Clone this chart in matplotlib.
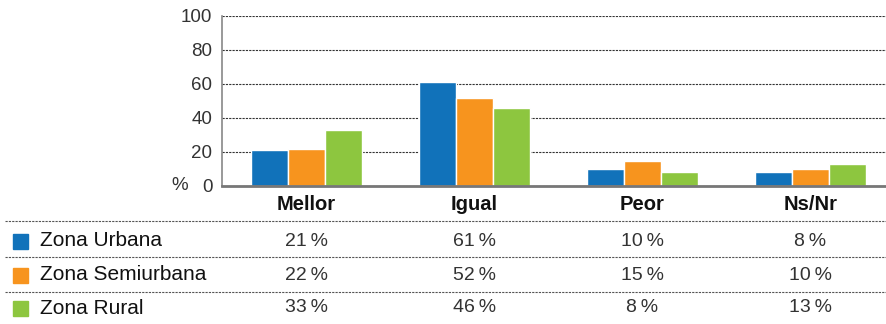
import matplotlib
matplotlib.use('Agg')
import matplotlib.pyplot as plt
import matplotlib.transforms as mtransforms
import numpy as np

plt.rcParams['font.family'] = ['Liberation Sans', 'DejaVu Sans']

categories = ['Mellor', 'Igual', 'Peor', 'Ns/Nr']
zones = ['Zona Urbana', 'Zona Semiurbana', 'Zona Rural']
urbana = [21, 61, 10, 8]
semiurbana = [22, 52, 15, 10]
rural = [33, 46, 8, 13]
colors = ['#1172BA', '#F7941E', '#8DC63F']
yticks = [0, 20, 40, 60, 80, 100]

series = [urbana, semiurbana, rural]

W, H = 886, 324
fig = plt.figure(figsize=(W / 100, H / 100), dpi=100)
ax = fig.add_axes([222 / W, 1 - 186 / H, 664 / W, 170 / H])

x = np.arange(len(categories))
bw = 0.22
for i, (vals, col) in enumerate(zip(series, colors)):
    ax.bar(x + (i - 1) * bw, vals, width=bw, color=col,
           edgecolor='white', linewidth=1.0, zorder=3)

ax.set_xlim(-0.5, 3.45)
ax.set_ylim(0, 100)
ax.set_yticks(yticks)
ax.set_yticklabels([str(t) for t in yticks], fontsize=13.5, color='#333333')
ax.set_xticks([])
ax.tick_params(axis='y', length=0, pad=7)
ax.grid(axis='y', color='#333333', linestyle=(0, (2, 1)), linewidth=0.8, zorder=0)
for s in ['top', 'right']:
    ax.spines[s].set_visible(False)
ax.spines['left'].set_color('#888888')
ax.spines['left'].set_linewidth(1.2)
ax.spines['bottom'].set_color('#777777')
ax.spines['bottom'].set_linewidth(2)
ax.spines['bottom'].set_zorder(4)

fig.text(180 / W, 1 - 186 / H, '%', fontsize=13.5, color='#333333',
         ha='center', va='center')

# data table under the bars
trans = mtransforms.blended_transform_factory(ax.transData, fig.transFigure)
for xi, cat in zip(x, categories):
    fig.text(xi, 1 - 205 / H, cat, transform=trans, fontsize=14.5,
             fontweight='bold', ha='center', va='center', color='#111111')

row_y = [241, 275, 308]
line_y = [221, 257, 292]
for ly in line_y:
    fig.add_artist(plt.Line2D([5 / W, 1], [1 - ly / H, 1 - ly / H],
                              transform=fig.transFigure, color='#555555',
                              linestyle=(0, (2, 1)), linewidth=0.8))

for ry, zone, vals, col in zip(row_y, zones, series, colors):
    yf = 1 - ry / H
    fig.add_artist(plt.Rectangle((13 / W, yf - 7.5 / H), 15 / W, 15 / H,
                                 transform=fig.transFigure, color=col))
    fig.text(40 / W, yf, zone, fontsize=15, ha='left', va='center', color='#111111')
    for xi, v in zip(x, vals):
        fig.text(xi, yf, f'{v}\u2009%', transform=trans, fontsize=14,
                 ha='center', va='center', color='#333333')

fig.savefig('out.png', dpi=100)
